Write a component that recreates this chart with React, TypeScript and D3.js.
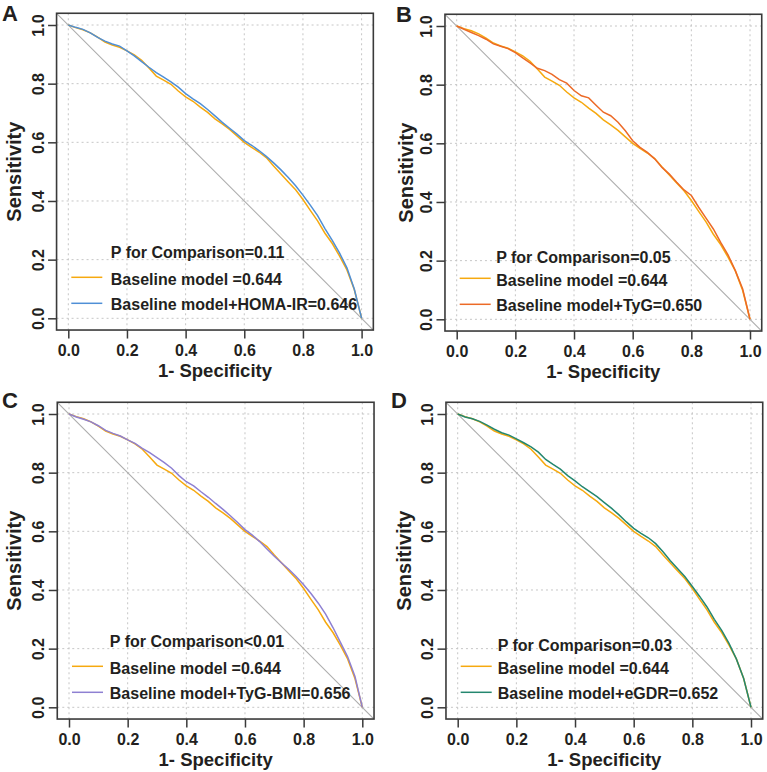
import { useEffect, useRef } from 'react';
import * as d3 from 'd3';

// 1 - specificity grid shared by every ROC curve
const specGrid = [
  0, 0.025, 0.05, 0.075, 0.1, 0.125, 0.15, 0.175, 0.2, 0.225, 0.25, 0.275, 0.3, 0.325,
  0.35, 0.375, 0.4, 0.425, 0.45, 0.475, 0.5, 0.525, 0.55, 0.575, 0.6, 0.625, 0.65,
  0.675, 0.7, 0.725, 0.75, 0.775, 0.8, 0.825, 0.85, 0.875, 0.9, 0.925, 0.95, 0.975, 1,
];

// sensitivity per model
const baselineSens = [
  1, 0.991, 0.984, 0.973, 0.959, 0.942, 0.932, 0.924, 0.912, 0.898, 0.88, 0.853, 0.826,
  0.812, 0.798, 0.775, 0.755, 0.74, 0.72, 0.702, 0.68, 0.663, 0.644, 0.622, 0.6, 0.583,
  0.567, 0.548, 0.519, 0.492, 0.465, 0.438, 0.405, 0.368, 0.332, 0.29, 0.255, 0.212,
  0.165, 0.098, 0,
];
const homaSens = [
  1, 0.992, 0.985, 0.973, 0.958, 0.945, 0.935, 0.928, 0.912, 0.895, 0.875, 0.856, 0.838,
  0.822, 0.806, 0.788, 0.766, 0.748, 0.732, 0.712, 0.69, 0.668, 0.648, 0.628, 0.606,
  0.59, 0.572, 0.552, 0.53, 0.506, 0.48, 0.452, 0.42, 0.386, 0.35, 0.306, 0.266, 0.222,
  0.172, 0.1, 0,
];
const tygSens = [
  1, 0.989, 0.978, 0.967, 0.955, 0.939, 0.931, 0.923, 0.909, 0.891, 0.874, 0.856, 0.848,
  0.835, 0.817, 0.805, 0.78, 0.762, 0.755, 0.73, 0.706, 0.694, 0.672, 0.643, 0.609,
  0.586, 0.569, 0.547, 0.518, 0.495, 0.467, 0.441, 0.422, 0.382, 0.345, 0.308, 0.262,
  0.22, 0.166, 0.103, 0,
];
const tygBmiSens = [
  1, 0.99, 0.982, 0.973, 0.96, 0.944, 0.934, 0.925, 0.912, 0.9, 0.883, 0.868, 0.851,
  0.834, 0.815, 0.79, 0.769, 0.755, 0.735, 0.716, 0.695, 0.675, 0.653, 0.63, 0.606,
  0.587, 0.565, 0.54, 0.515, 0.492, 0.47, 0.445, 0.418, 0.388, 0.355, 0.318, 0.272,
  0.222, 0.172, 0.105, 0,
];
const egdrSens = [
  1, 0.99, 0.984, 0.975, 0.962, 0.948, 0.936, 0.928, 0.915, 0.902, 0.888, 0.87, 0.845,
  0.828, 0.812, 0.79, 0.772, 0.752, 0.735, 0.718, 0.698, 0.678, 0.656, 0.632, 0.61,
  0.593, 0.578, 0.558, 0.53, 0.5, 0.472, 0.445, 0.412, 0.378, 0.342, 0.3, 0.262, 0.218,
  0.165, 0.098, 0,
];

const panelLetters = ['A', 'B', 'C', 'D'];
const baselineLabel = 'Baseline model =0.644';
const modelLabels = [
  'Baseline model+HOMA-IR=0.646',
  'Baseline model+TyG=0.650',
  'Baseline model+TyG-BMI=0.656',
  'Baseline model+eGDR=0.652',
];
const pLabels = [
  'P for Comparison=0.11',
  'P for Comparison=0.05',
  'P for Comparison<0.01',
  'P for Comparison=0.03',
];
const modelSens = [homaSens, tygSens, tygBmiSens, egdrSens];
const axisTicks = [0, 0.2, 0.4, 0.6, 0.8, 1];

const baselineColor = '#F6A90F';
const modelColors = ['#4F8FD6', '#EC6A27', '#8E80D2', '#24876F'];

// where each panel's (0,0) sits and small per-panel nudges
const layout = [
  { x0: 68.3, y0: 318.3, titleDx: -47.6, pDy: -60.5, textDx: 42.5, lx: 2, ly: 21 },
  { x0: 456.7, y0: 319.3, titleDx: -43.5, pDy: -56.3, textDx: 39.5, lx: 396, ly: 22 },
  { x0: 69, y0: 707.3, titleDx: -47.6, pDy: -60.3, textDx: 40.8, lx: 2, ly: 407.5 },
  { x0: 457.7, y0: 707.3, titleDx: -46.5, pDy: -56.3, textDx: 40, lx: 391, ly: 408 },
];

const SIZE = 293.3;
const FONT = '"Liberation Sans", Arial, Helvetica, sans-serif';
const INK = '#231f20';

const RocGrid = () => {
  const ref = useRef<SVGSVGElement>(null);

  useEffect(() => {
    const svg = d3.select(ref.current);
    svg.selectAll('*').remove();

    svg.append('rect').attr('width', 767).attr('height', 772).attr('fill', '#fff');

    layout.forEach((p, i) => {
      const x = d3.scaleLinear().domain([0, 1]).range([p.x0, p.x0 + SIZE]);
      const y = d3.scaleLinear().domain([0, 1]).range([p.y0, p.y0 - SIZE]);
      const g = svg.append('g').attr('font-family', FONT).attr('font-weight', 'bold');

      // dotted grid
      const gridStyle = (sel) =>
        sel.attr('stroke', '#c6c6c6').attr('stroke-width', 1).attr('stroke-dasharray', '2,3');
      g.append('g')
        .selectAll('line')
        .data(axisTicks)
        .join('line')
        .attr('x1', (d) => x(d))
        .attr('x2', (d) => x(d))
        .attr('y1', y(1.04))
        .attr('y2', y(-0.04))
        .call(gridStyle);
      g.append('g')
        .selectAll('line')
        .data(axisTicks)
        .join('line')
        .attr('x1', x(-0.04))
        .attr('x2', x(1.04))
        .attr('y1', (d) => y(d))
        .attr('y2', (d) => y(d))
        .call(gridStyle);

      // reference diagonal across the whole box
      g.append('line')
        .attr('x1', x(-0.04))
        .attr('y1', y(1.04))
        .attr('x2', x(1.04))
        .attr('y2', y(-0.04))
        .attr('stroke', '#adadad')
        .attr('stroke-width', 1.1);

      const line = d3
        .line<number>()
        .x((_, k) => x(specGrid[k]))
        .y((d) => y(d));

      g.append('path')
        .attr('d', line(baselineSens))
        .attr('fill', 'none')
        .attr('stroke', baselineColor)
        .attr('stroke-width', 1.5);
      g.append('path')
        .attr('d', line(modelSens[i]))
        .attr('fill', 'none')
        .attr('stroke', modelColors[i])
        .attr('stroke-width', 1.5);

      // frame
      g.append('rect')
        .attr('x', x(-0.04))
        .attr('y', y(1.04))
        .attr('width', x(1.04) - x(-0.04))
        .attr('height', y(-0.04) - y(1.04))
        .attr('fill', 'none')
        .attr('stroke', '#3a3a3a')
        .attr('stroke-width', 1.6);

      // axes
      const xAxis = g
        .append('g')
        .attr('transform', `translate(0,${y(-0.04)})`)
        .call(
          d3.axisBottom(x).tickValues(axisTicks).tickSize(8.5).tickPadding(6).tickFormat(d3.format('.1f'))
        );
      const yAxis = g
        .append('g')
        .attr('transform', `translate(${x(-0.04)},0)`)
        .call(d3.axisLeft(y).tickValues(axisTicks).tickSize(8.5).tickFormat(d3.format('.1f')));

      [xAxis, yAxis].forEach((a) => {
        a.attr('font-family', FONT).attr('font-size', 16).attr('font-weight', 'bold');
        a.select('.domain').remove();
        a.selectAll('line').attr('stroke', '#3a3a3a').attr('stroke-width', 1.5);
        a.selectAll('text').attr('fill', INK);
      });
      yAxis
        .selectAll('text')
        .attr('transform', 'rotate(-90)')
        .attr('x', 0)
        .attr('y', -13)
        .attr('dy', 0)
        .attr('text-anchor', 'middle');

      // axis titles
      g.append('text')
        .attr('x', x(0.5))
        .attr('y', p.y0 + 58.5)
        .attr('text-anchor', 'middle')
        .attr('font-size', 18.5)
        .attr('fill', INK)
        .text('1- Specificity');
      g.append('text')
        .attr('transform', `translate(${p.x0 + p.titleDx},${y(0.5)}) rotate(-90)`)
        .attr('text-anchor', 'middle')
        .attr('font-size', 20)
        .attr('fill', INK)
        .text('Sensitivity');

      // panel letter
      g.append('text')
        .attr('x', p.lx)
        .attr('y', p.ly)
        .attr('font-size', 22)
        .attr('fill', INK)
        .text(panelLetters[i]);

      // legend
      const tx = p.x0 + p.textDx;
      g.append('text')
        .attr('x', tx)
        .attr('y', p.y0 + p.pDy)
        .attr('font-size', 16)
        .attr('fill', INK)
        .text(pLabels[i]);
      const entries = [
        { label: baselineLabel, color: baselineColor, ty: -33.6, ly: -41 },
        { label: modelLabels[i], color: modelColors[i], ty: -8.6, ly: -15 },
      ];
      entries.forEach((e) => {
        g.append('line')
          .attr('x1', p.x0 + 3)
          .attr('x2', p.x0 + 34)
          .attr('y1', p.y0 + e.ly)
          .attr('y2', p.y0 + e.ly)
          .attr('stroke', e.color)
          .attr('stroke-width', 1.5);
        g.append('text')
          .attr('x', tx)
          .attr('y', p.y0 + e.ty)
          .attr('font-size', 16)
          .attr('fill', INK)
          .text(e.label);
      });
    });
  }, []);

  return (
    <svg
      ref={ref}
      width={767}
      height={772}
      style={{ position: 'absolute', left: 0, top: 0, display: 'block' }}
    />
  );
};

export default function App() {
  return (
    <div>
      <RocGrid />
    </div>
  );
}
